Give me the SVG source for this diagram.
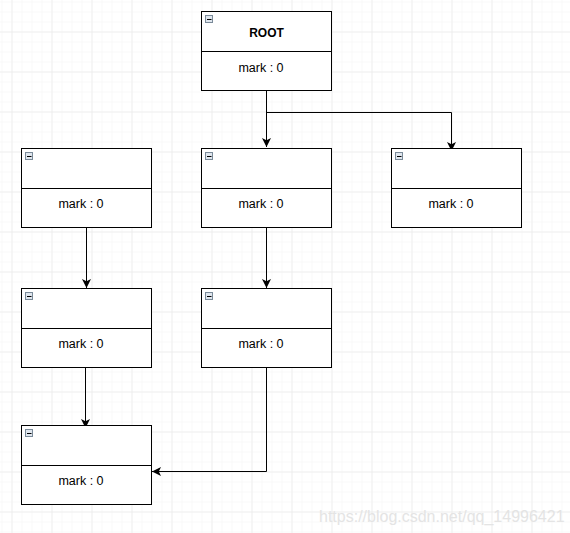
<svg xmlns="http://www.w3.org/2000/svg" width="570" height="533" viewBox="0 0 570 533">
<defs>
<pattern id="minor" x="1.5" y="1.5" width="10" height="10" patternUnits="userSpaceOnUse">
<path d="M0 0H10M0 0V10" fill="none" stroke="#f3f3f3" stroke-width="1"/>
</pattern>
<pattern id="major" x="11.5" y="31.5" width="40" height="40" patternUnits="userSpaceOnUse">
<path d="M0 0H40M0 0V40" fill="none" stroke="#e6e6e6" stroke-width="1"/>
</pattern>
<marker id="arr" markerWidth="10" markerHeight="10" viewBox="0 0 10 10" refX="9" refY="5" orient="auto" markerUnits="userSpaceOnUse">
<path d="M0 0.5L9 5L0 9.5L2.2 5Z" fill="#000"/>
</marker>
<g id="icon">
<rect x="0.5" y="0.5" width="7" height="7" fill="#dfe6ee" stroke="#7a8a99" stroke-width="1"/>
<path d="M2 4.5H6.5" stroke="#000" stroke-width="1"/>
</g>
</defs>
<style>
.box{fill:#fff;stroke:#000;stroke-width:1}
.t{font-family:"Liberation Sans",Arial,sans-serif;font-size:12.5px;fill:#000;text-anchor:middle}
.b{font-weight:bold;font-size:12px}
.c{fill:none;stroke:#000;stroke-width:1}
</style>
<rect width="570" height="533" fill="#fff"/>
<rect width="570" height="533" fill="url(#minor)"/>
<rect width="570" height="533" fill="url(#major)"/>

<g id="connectors">
<path class="c" d="M266.5 90.5V147" marker-end="url(#arr)"/>
<path class="c" d="M266.5 112.5H451.5V151" marker-end="url(#arr)"/>
<path class="c" d="M86.5 227.5V288" marker-end="url(#arr)"/>
<path class="c" d="M266.5 227.5V288" marker-end="url(#arr)"/>
<path class="c" d="M85.5 367.5V428" marker-end="url(#arr)"/>
<path class="c" d="M266.5 367.5V471.5H152" marker-end="url(#arr)"/>
</g>

<g id="root">
<rect class="box" x="201.5" y="11.5" width="130" height="79"/>
<path class="c" d="M201.5 51.5H331.5"/>
<use href="#icon" x="205" y="15"/>
<text class="t b" x="266.5" y="37">ROOT</text>
<text class="t" x="261" y="71.5">mark : 0</text>
</g>

<g id="n1">
<rect class="box" x="21.5" y="148.5" width="130" height="79"/>
<path class="c" d="M21.5 188.5H151.5"/>
<use href="#icon" x="25" y="152"/>
<text class="t" x="81" y="208">mark : 0</text>
</g>

<g id="n2">
<rect class="box" x="201.5" y="148.5" width="130" height="79"/>
<path class="c" d="M201.5 188.5H331.5"/>
<use href="#icon" x="205" y="152"/>
<text class="t" x="261" y="208">mark : 0</text>
</g>

<g id="n3">
<rect class="box" x="391.5" y="148.5" width="130" height="79"/>
<path class="c" d="M391.5 188.5H521.5"/>
<use href="#icon" x="395" y="152"/>
<text class="t" x="451" y="208">mark : 0</text>
</g>

<g id="n4">
<rect class="box" x="21.5" y="288.5" width="130" height="79"/>
<path class="c" d="M21.5 328.5H151.5"/>
<use href="#icon" x="25" y="292"/>
<text class="t" x="81" y="348">mark : 0</text>
</g>

<g id="n5">
<rect class="box" x="201.5" y="288.5" width="130" height="79"/>
<path class="c" d="M201.5 328.5H331.5"/>
<use href="#icon" x="205" y="292"/>
<text class="t" x="261" y="348">mark : 0</text>
</g>

<g id="n6">
<rect class="box" x="21.5" y="425.5" width="130" height="79"/>
<path class="c" d="M21.5 465.5H151.5"/>
<use href="#icon" x="25" y="429"/>
<text class="t" x="81" y="485">mark : 0</text>
</g>

<text x="319" y="522" font-family="Liberation Sans,Arial,sans-serif" font-size="16" fill="#e4e4e4">https://blog.csdn.net/qq_14996421</text>
</svg>
